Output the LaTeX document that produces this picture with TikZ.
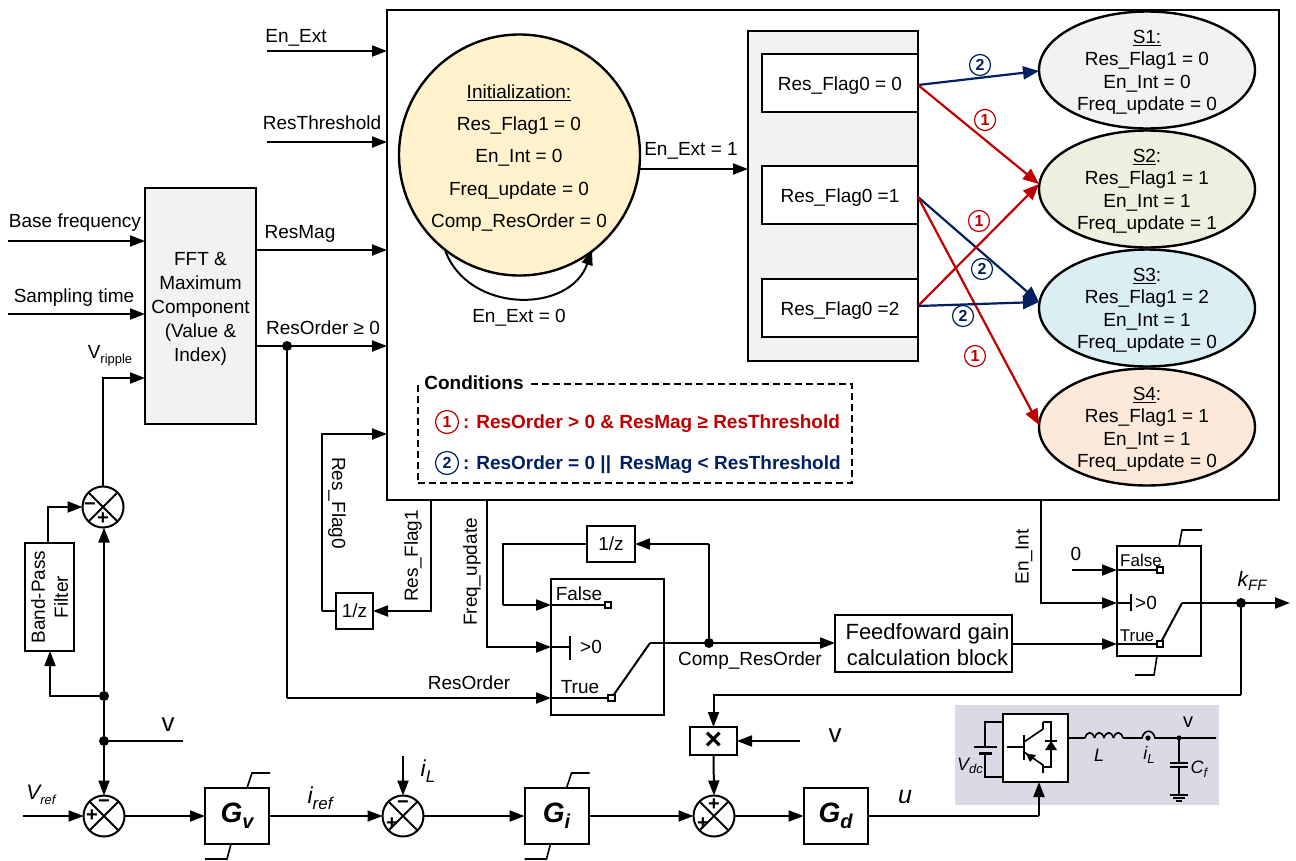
\documentclass[tikz,border=0pt]{standalone}
\usepackage{fontspec}
\setmainfont{Liberation Sans}
\usetikzlibrary{arrows.meta,calc,shapes.geometric}
\definecolor{rd}{HTML}{C00000}
\definecolor{bl}{HTML}{002060}
\newcommand{\sbs}[1]{\raisebox{-0.25em}{\fontsize{13}{13}\selectfont #1}}
\newcommand{\sbl}[1]{\raisebox{-0.25em}{\fontsize{17}{17}\selectfont #1}}
\newcommand{\fs}[1]{\fontsize{#1}{#1}\selectfont}
\newcommand{\dn}{\rule{0pt}{18pt}}
\tikzset{
 x=1pt,y=-1pt,
 every node/.style={inner sep=0pt,outer sep=0pt,font=\fs{19}},
 tx/.style={yshift=-2pt},
 wire/.style={line width=2pt,line join=miter},
 thin wire/.style={line width=1.6pt},
 arr/.style={wire,-{Triangle[length=15pt,width=11pt]}},
 blk/.style={draw,line width=2pt,fill=white,align=center},
 lbl/.style={align=center,tx},
 sumj/.style={draw,circle,line width=2pt,minimum size=41pt,fill=white,
   path picture={\draw[line width=2pt] (path picture bounding box.north west)--(path picture bounding box.south east)
   (path picture bounding box.north east)--(path picture bounding box.south west);}},
 sgn/.style={font=\bfseries\fs{20}},
 dot/.style={circle,fill=black,minimum size=10pt},
 sq/.style={draw,line width=2pt,fill=white,minimum size=6.5pt},
 state/.style={draw,ellipse,line width=2.4pt,inner ysep=-7pt,minimum width=216pt,minimum height=117pt,align=center},
 cnr/.style={draw=rd,text=rd,circle,line width=1.2pt,minimum size=21pt,font=\bfseries\fs{16}},
 cnb/.style={draw=bl,text=bl,circle,line width=1.2pt,minimum size=21pt,font=\bfseries\fs{16}},
 rarr/.style={line width=2.2pt,draw=rd,-{Triangle[length=16pt,width=13pt]}},
 barr/.style={line width=2.2pt,draw=bl,-{Triangle[length=16pt,width=13pt]}},
 gain/.style={blk,font=\bfseries\itshape\fs{28},minimum width=64pt,minimum height=56pt},
}
\begin{document}
\begin{tikzpicture}
\useasboundingbox (0,0) rectangle (1296,860);
% main box
\node[blk,minimum width=892pt,minimum height=490pt] (main) at (833,255) {};
% initial circle
\node[draw,circle,line width=2.4pt,fill={rgb,255:red,255;green,242;blue,204},minimum size=241pt] (init) at (519.5,155) {};
\node[lbl] (t0) at (519,91) {\underline{Initialization:}};
\node[lbl] (t1) at (519,124) {Res\_Flag1 = 0};
\node[lbl] (t2) at (519,156) {En\_Int = 0};
\node[lbl] (t3) at (519,189) {Freq\_update = 0};
\node[lbl] (t4) at (519,221) {Comp\_ResOrder = 0};
\coordinate (loopA) at (445,250);
\coordinate (loopB) at (592,250);
\draw[arr] (loopA) .. controls (468,314) and (570,314) .. (loopB);
\node[tx] (enext0) at (519,316) {En\_Ext = 0};
% flag panel
\node[draw,line width=1.4pt,fill={rgb,255:red,242;green,242;blue,242},minimum width=170pt,minimum height=330pt] (panel) at (833,196) {};
\node[blk,minimum width=156pt,minimum height=58pt] (f0) at (840,83) {\dn Res\_Flag0 = 0};
\node[blk,minimum width=156pt,minimum height=58pt] (f1) at (840,195) {\dn Res\_Flag0 =1};
\node[blk,minimum width=156pt,minimum height=58pt] (f2) at (840,308) {\dn Res\_Flag0 =2};
\coordinate (initE) at (640,169);
\draw[arr] (initE) -- (initE -| panel.west);
\node[tx] (enext1) at (691,149) {En\_Ext = 1};
% states
\node[state,fill={rgb,255:red,242;green,242;blue,242}] (s1) at (1147,70) {\dn\underline{S1:}\\[3.5pt]Res\_Flag1 = 0\\[3.5pt]En\_Int = 0\\[3.5pt]Freq\_update = 0};
\node[state,fill={rgb,255:red,235;green,241;blue,222}] (s2) at (1147,189) {\dn\underline{S2}:\\[3.5pt]Res\_Flag1 = 1\\[3.5pt]En\_Int = 1\\[3.5pt]Freq\_update = 1};
\node[state,fill={rgb,255:red,219;green,238;blue,244}] (s3) at (1147,308) {\dn\underline{S3}:\\[3.5pt]Res\_Flag1 = 2\\[3.5pt]En\_Int = 1\\[3.5pt]Freq\_update = 0};
\node[state,fill={rgb,255:red,253;green,233;blue,217}] (s4) at (1147,427) {\dn\underline{S4}:\\[3.5pt]Res\_Flag1 = 1\\[3.5pt]En\_Int = 1\\[3.5pt]Freq\_update = 0};
\coordinate (f0o) at (918,85);
\coordinate (f1o) at (918,197);
\coordinate (f2o) at (918,306);
\draw[barr] (f0o) -- ($(s1.west)+(0,1)$);
\draw[rarr] (f0o) -- ($(s2.west)+(0,-5)$);
\draw[barr] (f1o) -- ($(s3.west)+(0,-6)$);
\draw[rarr] (f1o) -- ($(s4.west)+(0,-2)$);
\draw[rarr] (f2o) -- ($(s2.west)+(0,-5)$);
\draw[barr] (f2o) -- ($(s3.west)+(0,-6)$);
\node[cnb] (c1) at (980,65) {2};
\node[cnr] (c2) at (985,120) {1};
\node[cnr] (c3) at (979,221) {1};
\node[cnb] (c4) at (982,269) {2};
\node[cnb] (c5) at (963,316) {2};
\node[cnr] (c6) at (975,356) {1};
% conditions
\node[draw,dash pattern=on 7pt off 4pt,line width=1.2pt,minimum width=434pt,minimum height=99pt] (cond) at (635,433.5) {};
\node[tx,fill=white,inner sep=4pt,font=\bfseries\fs{19}] (condt) at (474,381) {Conditions};
\node[cnr,minimum size=23pt] (cc1) at (447,422) {1};
\node[tx,anchor=west,text=rd,font=\bfseries\fs{19}] (cc1t) at (463,422) {: ResOrder > 0 \& ResMag ≥ ResThreshold};
\node[cnb,minimum size=23pt] (cc2) at (447,463) {2};
\node[tx,anchor=west,text=bl,font=\bfseries\fs{19}] (cc2t) at (463,463) {: ResOrder = 0 ||\, ResMag < ResThreshold};
% inputs to main
\coordinate (a1) at (267,51);
\coordinate (a2) at (267,142);
\draw[arr] (a1) -- (a1 -| main.west);
\draw[arr] (a2) -- (a2 -| main.west);
\node[tx] (enext) at (296,36) {En\_Ext};
\node[tx] (resth) at (322,121) {ResThreshold};
% FFT
\node[blk,fill={rgb,255:red,242;green,242;blue,242},minimum width=111pt,minimum height=236pt] (fft) at (200.5,306) {\dn FFT \&\\[5pt]Maximum\\[5pt]Component\\[5pt](Value \&\\[5pt]Index)};
\coordinate (b1) at (8,241);
\coordinate (b2) at (8,314);
\draw[arr] (b1) -- (b1 -| fft.west);
\draw[arr] (b2) -- (b2 -| fft.west);
\node[tx] (basef) at (75,221) {Base frequency};
\node[tx] (samp) at (74,296) {Sampling time};
\coordinate (o1) at (256,250);
\coordinate (o2) at (256,346);
\draw[arr] (o1) -- (o1 -| main.west);
\draw[arr] (o2) -- (o2 -| main.west);
\node[tx] (resmag) at (300,232) {ResMag};
\node[tx] (resord) at (323,326) {ResOrder ≥ 0};
\node[dot] (dres) at (287,346) {};
% V ripple sum
\node[sumj] (sum0) at (103,507) {};
\node[sgn] (s0m) at (90,507) {−};
\node[sgn] (s0p) at (103,519) {+};
\node[blk,minimum width=49pt,minimum height=108pt] (bpf) at (49.5,597) {};
\node[rotate=90,align=center] (bpft) at (49.5,597) {Band-Pass\\[4pt]Filter};
\coordinate (vrip) at (103,378);
\draw[arr] (sum0.north) -- (vrip) -- (vrip -| fft.west);
\node[tx] (vript) at (110,354) {V\sbs{ripple}};
\coordinate (bpfo) at (48,507);
\draw[arr] (bpfo |- bpf.north) -- (bpfo) -- (sum0.west);
\node[dot] (d1) at (104,696) {};
\node[dot] (d2) at (104,741) {};
\coordinate (bpfi) at (50,696);
\draw[arr] (d1) -- (bpfi) -- (bpfi |- bpf.south);
\draw[arr] (d1) -- (d1 |- sum0.south);
\coordinate (vend) at (183,741);
\draw[wire] (d1) -- (d2) -- (vend);
\node[font=\fs{26}] (vv) at (168,725) {v};
% feedback
\node[sumj] (sum1) at (104,816) {};
\node[sgn] (s1m) at (104,804) {−};
\node[sgn] (s1p) at (92,816) {+};
\draw[arr] (d2) -- (sum1.north);
\coordinate (vref) at (23,816);
\draw[arr] (vref) -- (sum1.west);
\node[font=\itshape\fs{21}] (vreft) at (41,795) {V\sbs{ref}};
\node[gain] (gv) at (237,816) {\dn G\raisebox{-0.2em}{\fs{20}v}};
\draw[arr] (sum1.east) -- (gv.west);
\node[sumj] (sum2) at (403,816) {};
\node[sgn] (s2m) at (403,805) {−};
\node[sgn] (s2p) at (392,824) {+};
\draw[arr] (gv.east) -- (sum2.west);
\node[font=\itshape\fs{23}] (iref) at (320,798) {i\sbl{ref}};
\coordinate (il) at (403,756);
\draw[arr] (il) -- (sum2.north);
\node[font=\itshape\fs{23}] (ilt) at (428,771) {i\sbl{L}};
\node[gain] (gi) at (556.5,816) {\dn G\raisebox{-0.2em}{\fs{20}i}};
\draw[arr] (sum2.east) -- (gi.west);
\node[sumj] (sum3) at (714,816) {};
\node[sgn] (s3a) at (714,805) {+};
\node[sgn] (s3b) at (703,824) {+};
\draw[arr] (gi.east) -- (sum3.west);
\node[gain] (gd) at (835.5,816) {\dn G\raisebox{-0.2em}{\fs{20}d}};
\draw[arr] (sum3.east) -- (gd.west);
\node[font=\itshape\fs{25}] (ut) at (905,797) {u};
% saturation marks
\draw[thin wire] (gv.north)++(10,0) -- ++(5,-15) -- ++(18,0);
\draw[thin wire] (gv.south)++(-6,0) -- ++(-4,15) -- ++(-22,0);
\draw[thin wire] (gi.north)++(10,0) -- ++(5,-15) -- ++(18,0);
\draw[thin wire] (gi.south)++(-6,0) -- ++(-4,15) -- ++(-22,0);
% multiplier
\node[blk,minimum width=47pt,minimum height=28pt,font=\bfseries\fs{30}] (mul) at (713.5,741) {×};
\draw[arr] (mul.south) -- (sum3.north);
\coordinate (vm) at (800,741);
\draw[arr] (vm) -- (mul.east);
\node[font=\fs{26}] (vmt) at (835,736) {v};
% power stage
\fill[fill={rgb,255:red,221;green,216;blue,230}] (955,705) rectangle (1219,805);
\node[blk,minimum width=65pt,minimum height=68pt] (inv) at (1035.5,748) {};
\coordinate (u1) at (1039,816);
\draw[wire] (gd.east |- u1) -- (u1);
\draw[arr] (u1) -- (u1 |- inv.south);
% battery
\draw[thin wire] (1003,722) -- (985,722) -- (985,747);
\draw[line width=2pt] (974,747) -- (997,747);
\draw[line width=3pt] (979,753) -- (992,753);
\draw[thin wire] (985,753) -- (985,777) -- (1003,777);
\node[font=\itshape\fs{18}] (vdc) at (970,766) {V\raisebox{-0.2em}{\fs{13}dc}};
% IGBT
\draw[thin wire] (1007,747) -- (1024,747);
\draw[line width=2pt] (1024,735) -- (1024,760);
\draw[thin wire] (1043,722) -- (1043,729) -- (1024,742);
\draw[thin wire] (1024,752) -- (1043,765) -- (1043,773);
\fill (1026,753.5) -- (1036,755) -- (1030,762) -- cycle;
\draw[thin wire] (1043,722) -- (1051,722) -- (1051,767) -- (1043,767);
\fill (1045,750) -- (1057,750) -- (1051,741) -- cycle;
\draw[line width=1.6pt] (1045,741) -- (1057,741);
% output
\coordinate (vn) at (1179,738);
\draw[thin wire] (1068,738) -- (1085,738);
\foreach \k in {0,1,2,3}{
 \draw[thin wire] ({1085+\k*9.5},738) .. controls ({1087+\k*9.5},731) and ({1092.5+\k*9.5},731) .. ({1094.5+\k*9.5},738);}
\draw[thin wire] (1123,738) -- (1142,738) .. controls (1144,729) and (1153,729) .. (1155,738) -- (vn) -- (1216,738);
\fill (1148,738) circle (2.6pt);
\fill (vn) circle (2.6pt);
\draw[thin wire] (vn) -- (1179,763);
\draw[line width=2pt] (1170,763) -- (1188,763);
\draw[line width=2pt] (1170,767) -- (1188,767);
\draw[thin wire] (1179,767) -- (1179,795);
\draw[line width=2pt] (1170,795) -- (1188,795);
\draw[line width=2pt] (1173,798) -- (1185,798);
\draw[line width=2pt] (1176,801) -- (1182,801);
\node[font=\itshape\fs{18}] (lt) at (1099,755) {L};
\node[font=\itshape\fs{18}] (ilt2) at (1149,755) {i\raisebox{-0.2em}{\fs{13}L}};
\node[font=\itshape\fs{18}] (cft) at (1199,769) {C\raisebox{-0.2em}{\fs{13}f}};
\node[font=\fs{20}] (vt) at (1188,722) {v};
% Res flag delay
\node[blk,minimum width=37pt,minimum height=36pt] (z1) at (354.5,611) {1/z};
\coordinate (rf1) at (431,500);
\coordinate (rf1b) at (431,611);
\draw[arr] (rf1) -- (rf1b) -- (z1.east);
\coordinate (rf0) at (322,611);
\coordinate (rf0t) at (322,434);
\draw[wire] (z1.west) -- (rf0);
\draw[arr] (rf0) -- (rf0t) -- (rf0t -| main.west);
\node[rotate=-90] (rf0l) at (337,503) {Res\_Flag0};
\node[rotate=90] (rf1l) at (413,556) {Res\_Flag1};
% switch 1
\node[blk,minimum width=113pt,minimum height=136pt] (sw1) at (607.5,647) {};
\node[blk,minimum width=48pt,minimum height=36pt] (z2) at (611,544) {1/z};
\coordinate (k1) at (503,544);
\coordinate (k2) at (503,605);
\draw[wire] (z2.west) -- (k1) -- (k2);
\draw[arr] (k2) -- (k2 -| sw1.west);
\coordinate (fu) at (487,500);
\coordinate (fub) at (487,647);
\draw[arr] (fu) -- (fub) -- (fub -| sw1.west);
\node[rotate=90] (fut) at (472,572) {Freq\_update};
\coordinate (ro) at (287,698);
\draw[wire] (dres) -- (ro);
\draw[arr] (ro) -- (ro -| sw1.west);
\node[tx] (rot) at (469,681) {ResOrder};
\node[tx] (s1f) at (579,592) {False};
\node[tx] (s1t) at (580,685) {True};
\node (s1g) at (591,647) {>0};
\coordinate (w1) at (551,605);
\coordinate (w2) at (551,647);
\coordinate (w3) at (551,698);
\node[sq] (q1) at (608,605) {};
\node[sq] (q2) at (611.5,698) {};
\draw[wire] (w1) -- (q1);
\draw[wire] (w3) -- (q2);
\draw[wire] (w2) -- (570,647);
\draw[wire] (570,636) -- (570,660);
% output of switch 1
\coordinate (sw1o) at (650,643);
\node[blk,minimum width=177pt,minimum height=57pt,font=\fs{22}] (ffb) at (923.5,643.5) {\hspace*{8pt}\rule{0pt}{19pt}Feedfoward gain\\[4pt]\hspace*{8pt}calculation block};
\draw[wire] (q2) -- (sw1o);
\draw[arr] (sw1o) -- (sw1o -| ffb.west);
\node[dot] (d3) at (709,643) {};
\coordinate (d3t) at (709,544);
\draw[wire] (d3) -- (d3t);
\draw[arr] (d3t) -- (z2.east);
\node[tx] (crot) at (750,659) {Comp\_ResOrder};
% switch 2
\node[blk,minimum width=84pt,minimum height=110pt] (sw2) at (1159,601) {};
\coordinate (zero) at (1072,570);
\draw[arr] (zero) -- (zero -| sw2.west);
\node (zt) at (1076,554) {0};
\coordinate (ei) at (1041,500);
\coordinate (eib) at (1041,603);
\draw[arr] (ei) -- (eib) -- (eib -| sw2.west);
\node[rotate=90] (eit) at (1024,557) {En\_Int};
\coordinate (fo) at (1012,644);
\draw[arr] (fo) -- (fo -| sw2.west);
\node[sq] (q3) at (1160,570) {};
\node[sq] (q4) at (1160,644) {};
\draw[thin wire] (1117,570) -- (q3);
\draw[thin wire] (1117,644) -- (q4);
\draw[thin wire] (1117,603) -- (1131,603);
\draw[wire] (1131,594) -- (1131,611);
\node[font=\fs{17}] (s2f) at (1141,560) {False};
\node[font=\fs{17}] (s2t) at (1137,636) {True};
\node (s2g) at (1146,603) {>0};
\coordinate (sw2o) at (1182,603);
\coordinate (kout) at (1290,603);
\draw[wire] (q4) -- (sw2o);
\draw[arr] (sw2o) -- (kout);
\node[dot] (d4) at (1241,603) {};
\node[font=\itshape\fs{21}] (kff) at (1252,581) {k\raisebox{-0.2em}{\fs{15}FF}};
\draw[thin wire] (sw2.north)++(20,0) -- ++(3,-16) -- ++(20,0);
\draw[thin wire] (sw2.south)++(-2,0) -- ++(-3,19) -- ++(-19,0);
\coordinate (m1) at (1241,695);
\coordinate (m2) at (713.5,695);
\draw[wire] (d4) -- (m1);
\draw[arr] (m1) -- (m2) -- (mul.north);
\end{tikzpicture}
\end{document}
